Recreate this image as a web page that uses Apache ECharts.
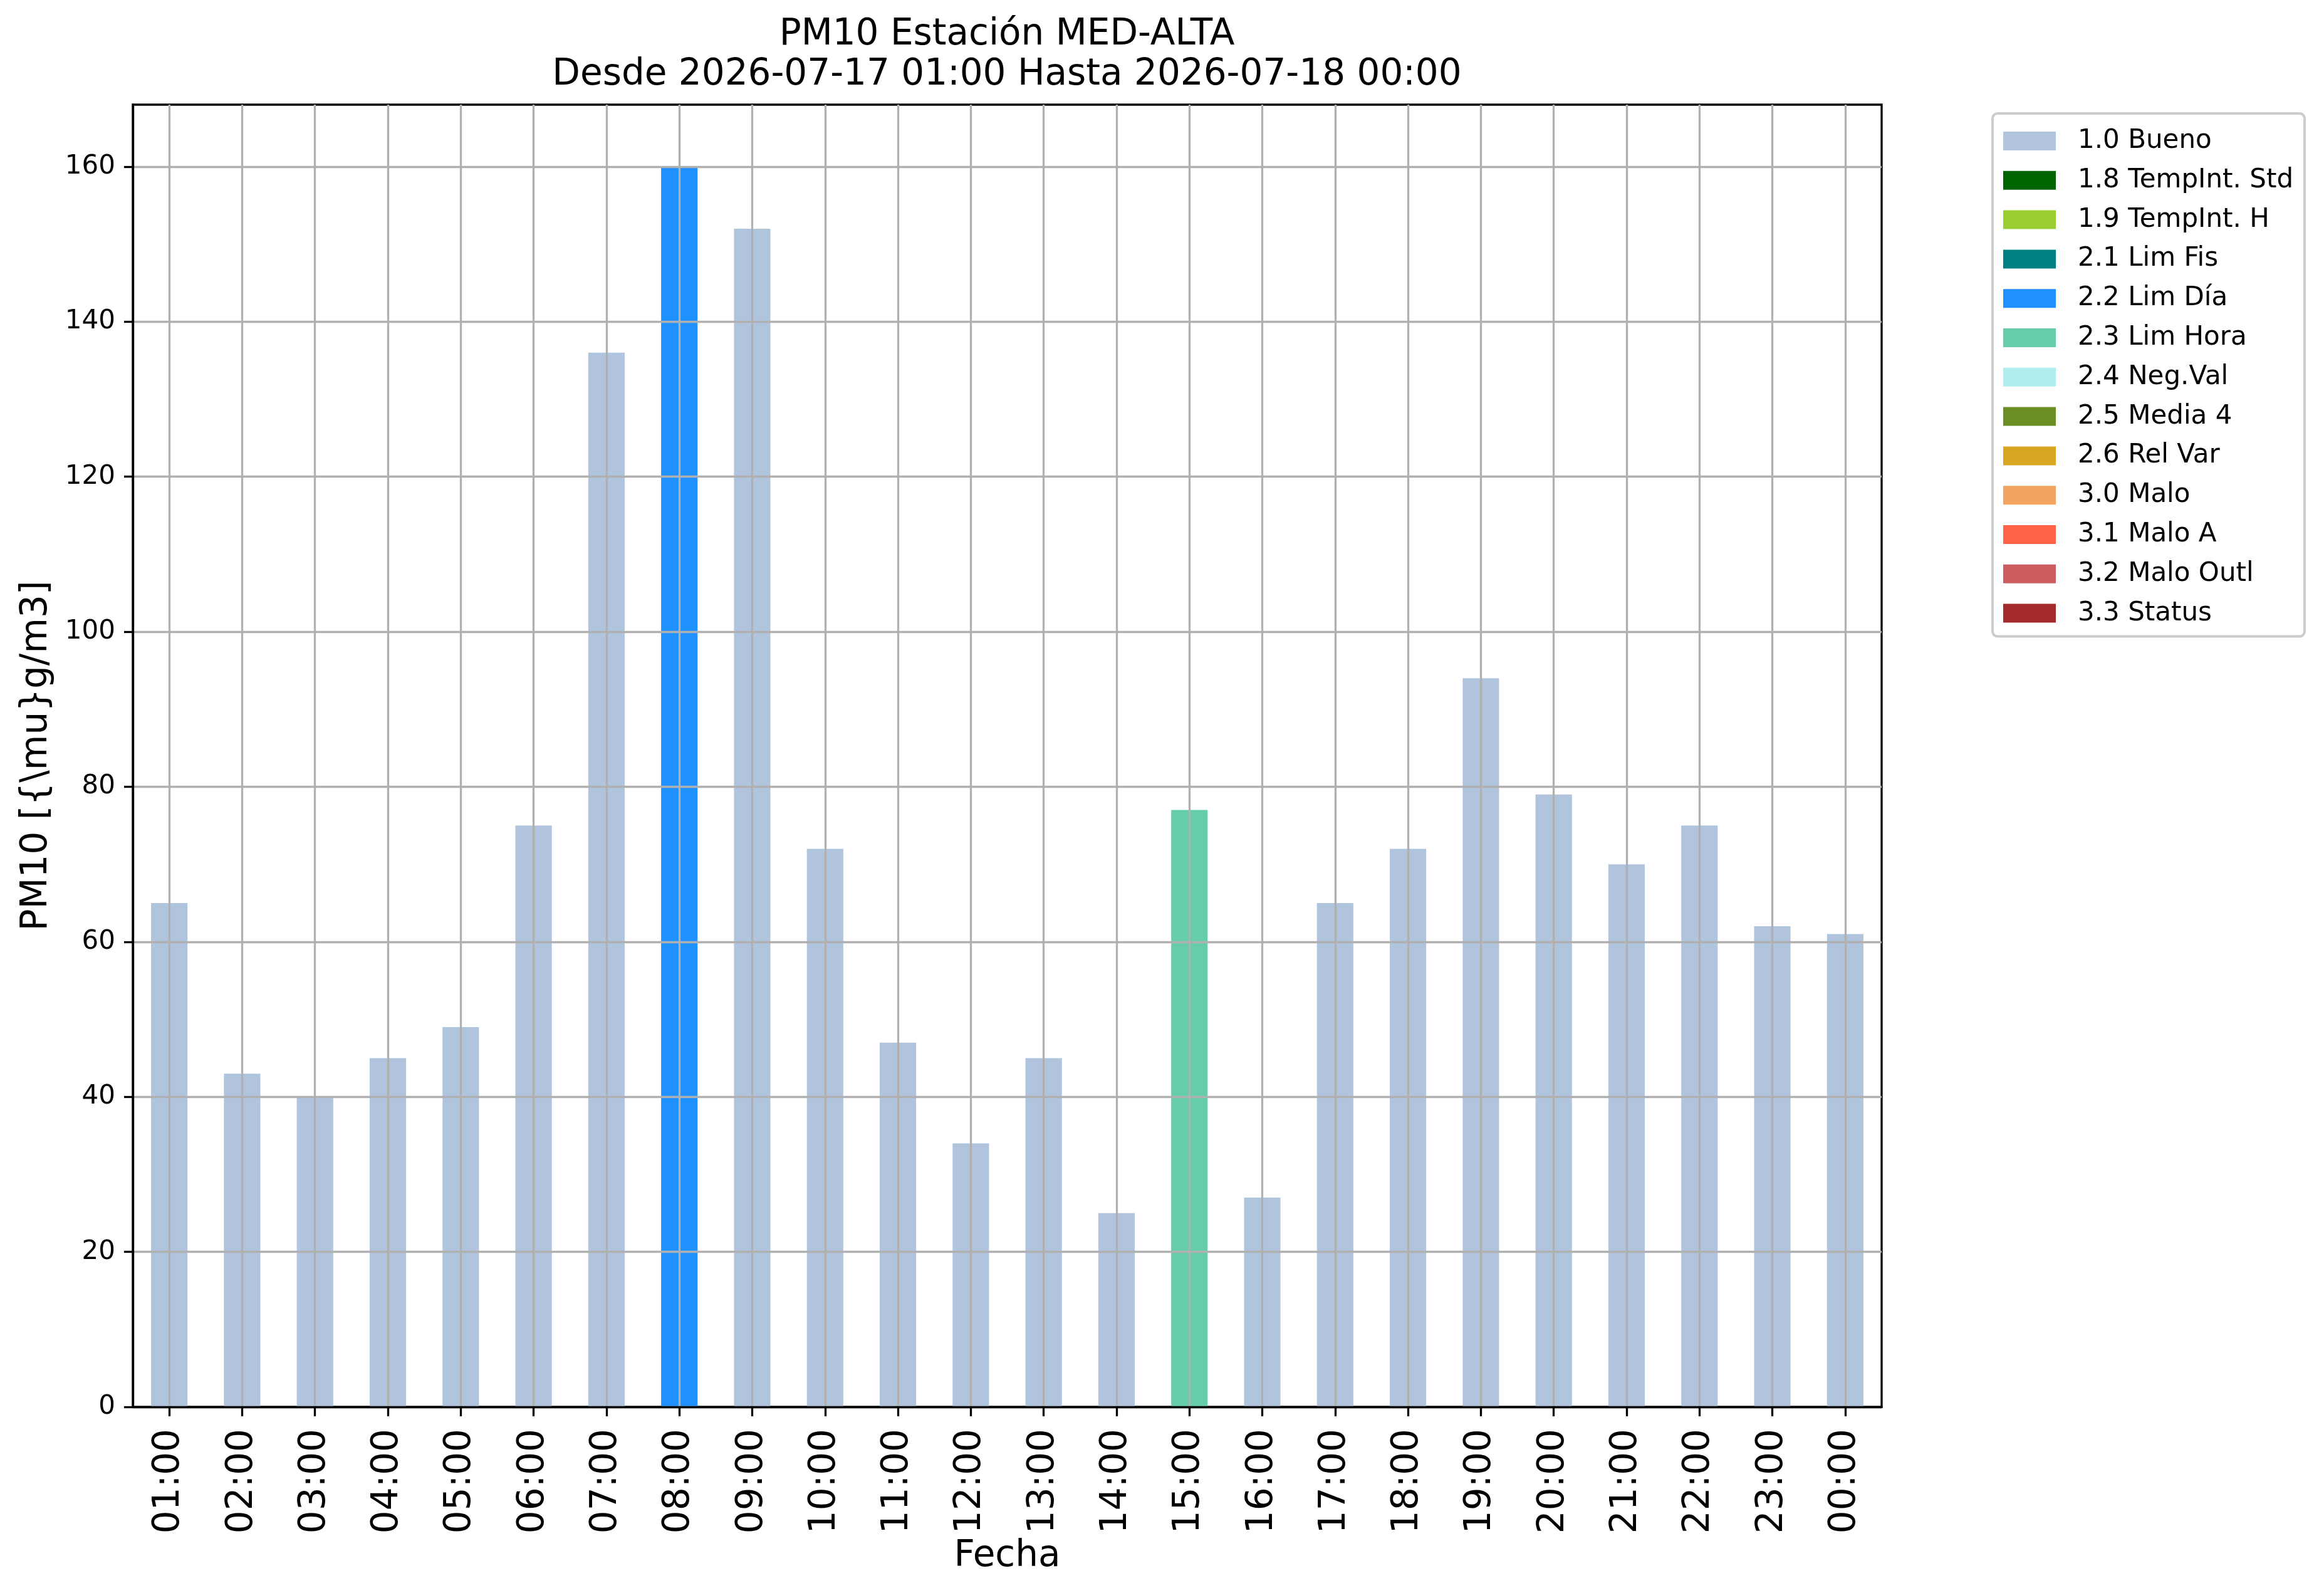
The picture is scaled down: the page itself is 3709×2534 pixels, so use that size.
<!DOCTYPE html>
<html>
<head>
<meta charset="utf-8">
<script src="https://cdn.jsdelivr.net/npm/echarts@6/dist/echarts.min.js"></script>
<style>
  html, body { margin: 0; padding: 0; background: #fff; }
  #main { width: 3709px; height: 2534px; }
</style>
</head>
<body>
<div id="main"></div>
<script>
// datos horarios PM10
var horas = ['01:00', '02:00', '03:00', '04:00', '05:00', '06:00', '07:00', '08:00',
    '09:00', '10:00', '11:00', '12:00', '13:00', '14:00', '15:00', '16:00',
    '17:00', '18:00', '19:00', '20:00', '21:00', '22:00', '23:00', '00:00'];
var valores = [65, 43, 40, 45, 49, 75, 136, 160, 152, 72, 47, 34, 45, 25, 77, 27,
    65, 72, 94, 79, 70, 75, 62, 61];
var banderas = ['1.0 Bueno', '1.0 Bueno', '1.0 Bueno', '1.0 Bueno', '1.0 Bueno', '1.0 Bueno',
    '1.0 Bueno', '2.2 Lim Día', '1.0 Bueno', '1.0 Bueno', '1.0 Bueno', '1.0 Bueno',
    '1.0 Bueno', '1.0 Bueno', '2.3 Lim Hora', '1.0 Bueno', '1.0 Bueno', '1.0 Bueno',
    '1.0 Bueno', '1.0 Bueno', '1.0 Bueno', '1.0 Bueno', '1.0 Bueno', '1.0 Bueno'];

// códigos de validación y colores
var codigos = ['1.0 Bueno', '1.8 TempInt. Std', '1.9 TempInt. H', '2.1 Lim Fis', '2.2 Lim Día',
    '2.3 Lim Hora', '2.4 Neg.Val', '2.5 Media 4', '2.6 Rel Var', '3.0 Malo', '3.1 Malo A',
    '3.2 Malo Outl', '3.3 Status'];
var colores = ['#B0C4DE', '#006400', '#9ACD32', '#008080', '#1E90FF', '#66CDAA', '#AFEEEE',
    '#6B8E23', '#DAA520', '#F4A460', '#FF6347', '#CD5C5C', '#A52A2A'];
var yTicks = [0, 20, 40, 60, 80, 100, 120, 140, 160];

var FONT = 'DejaVu Sans';

var series = codigos.map(function (c, k) {
    return {
        name: c,
        type: 'bar',
        stack: 'total',
        barWidth: '50%',
        itemStyle: { color: colores[k] },
        data: valores.map(function (v, i) { return banderas[i] === c ? v : '-'; })
    };
});

var chart = echarts.init(document.getElementById('main'), null, { renderer: 'canvas' });
chart.setOption({
    animation: false,
    backgroundColor: '#ffffff',
    textStyle: { fontFamily: FONT, color: '#000' },
    graphic: [
        { type: 'text', x: 1607, y: 56, z: 10,
          style: { text: 'PM10 Estación MED-ALTA', font: '58px "DejaVu Sans"', fill: '#000',
                   textAlign: 'center', textVerticalAlign: 'middle' } },
        { type: 'text', x: 1607, y: 120, z: 10,
          style: { text: 'Desde 2026-07-17 01:00 Hasta 2026-07-18 00:00', font: '58px "DejaVu Sans"', fill: '#000',
                   textAlign: 'center', textVerticalAlign: 'middle' } }
    ],
    grid: {
        left: 212, top: 167, width: 2791, height: 2078,
        show: true, borderColor: '#000', borderWidth: 3.3, backgroundColor: 'transparent'
    },
    legend: {
        orient: 'vertical',
        left: 3180, top: 181,
        icon: 'rect',
        itemWidth: 84, itemHeight: 30, itemGap: 20.8,
        padding: [23, 18, 16, 17],
        borderColor: '#cccccc', borderWidth: 4, borderRadius: 8,
        backgroundColor: '#ffffff',
        selectedMode: false,
        textStyle: { fontFamily: FONT, fontSize: 42, color: '#000', padding: [0, 0, 0, 30] },
        data: codigos
    },
    xAxis: {
        type: 'category',
        data: horas,
        boundaryGap: true,
        z: 3,
        name: 'Fecha',
        nameLocation: 'middle',
        nameGap: 194,
        nameTextStyle: { fontFamily: FONT, fontSize: 58, color: '#000' },
        axisLine: { show: true, lineStyle: { color: '#000', width: 3.3 } },
        axisTick: { show: true, alignWithLabel: true, length: 15, lineStyle: { color: '#000', width: 3.3 } },
        axisLabel: { interval: 0, rotate: 90, margin: 35, fontFamily: FONT, fontSize: 58, color: '#000' },
        splitLine: { show: true, alignWithLabel: true, interval: 0, lineStyle: { color: '#b0b0b0', width: 3.3 } }
    },
    yAxis: {
        type: 'value',
        min: 0, max: 168, interval: 20,
        z: 3,
        name: 'PM10 [{\\mu}g/m3]',
        nameLocation: 'middle',
        nameGap: 124,
        nameRotate: 90,
        nameTextStyle: { fontFamily: FONT, fontSize: 58, color: '#000' },
        axisLine: { show: true, lineStyle: { color: '#000', width: 3.3 } },
        axisTick: { show: true, length: 14, customValues: yTicks, lineStyle: { color: '#000', width: 3.3 } },
        axisLabel: { margin: 28, fontFamily: FONT, fontSize: 42, color: '#000', customValues: yTicks },
        splitLine: { show: true, lineStyle: { color: '#b0b0b0', width: 3.3 } }
    },
    series: series
});
</script>
</body>
</html>
